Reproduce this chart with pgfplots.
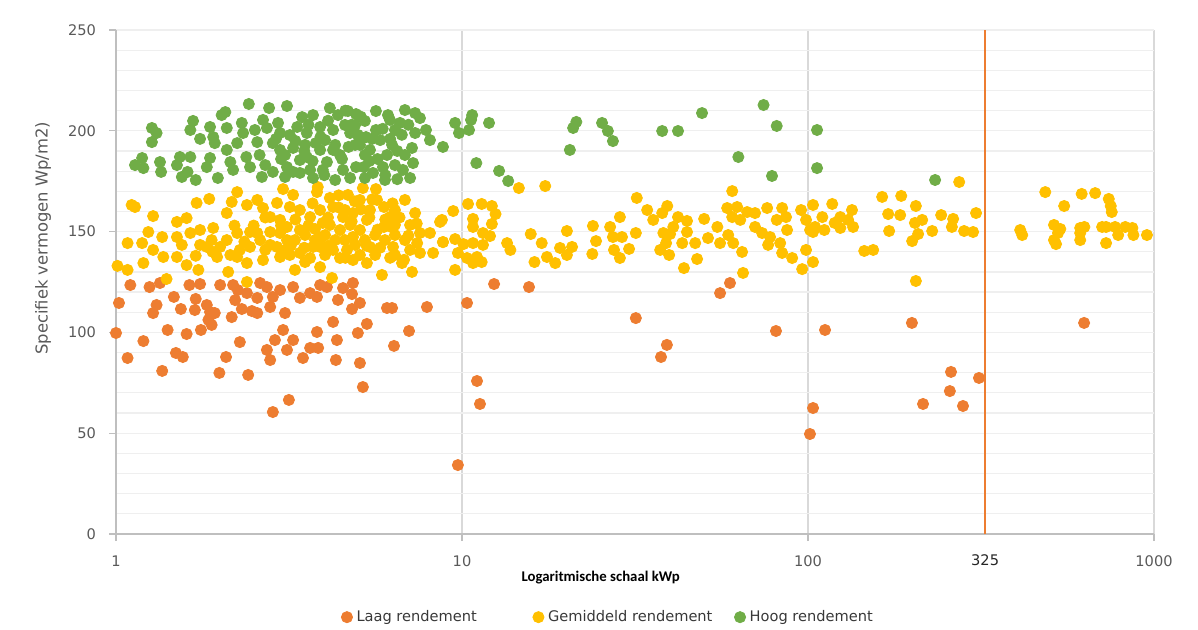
\documentclass[border=0pt]{standalone}
\usepackage{fontspec}
\setmainfont{DejaVu Sans}
\newfontfamily\carlito{Carlito}
\usepackage{pgfplots}
\pgfplotsset{compat=1.18}
\definecolor{cOrange}{HTML}{ED7D31}
\definecolor{cYellow}{HTML}{FFC000}
\definecolor{cGreen}{HTML}{70AD47}
\definecolor{tickgray}{HTML}{595959}
\definecolor{axgray}{HTML}{BFBFBF}
\definecolor{majgrid}{HTML}{D9D9D9}
\definecolor{mingrid}{HTML}{EFEFEF}
\begin{document}
\begin{tikzpicture}
\useasboundingbox (0,0) rectangle (599pt,314.5pt);
\begin{axis}[
  at={(58pt,47.5pt)}, anchor=south west,
  scale only axis, width=519pt, height=252pt,
  xmode=log, log basis x=10,
  xmin=1, xmax=1000, ymin=0, ymax=250,
  xtick={1,10,100,1000}, xticklabels={1,10,100,1000},
  extra x ticks={325}, extra x tick labels={325},
  extra x tick style={grid=none, major tick length=0pt, xticklabel style={text=black!85, yshift=-3pt}},
  ytick={0,50,100,150,200,250},
  minor y tick num=4,
  xmajorgrids, ymajorgrids, xminorgrids, yminorgrids,
  major x grid style={draw=majgrid, line width=0.6pt},
  major y grid style={draw=mingrid, line width=0.6pt},
  minor x grid style={draw=mingrid, line width=0.6pt},
  minor y grid style={draw=mingrid, line width=0.6pt},
  axis x line*=bottom, axis y line*=left,
  axis line style={draw=axgray, line width=0.6pt, -},
  tick style={draw=axgray, line width=0.6pt},
  tick align=outside,
  major tick length=3.5pt, minor tick length=0pt,
  /pgf/number format/assume math mode=true,
  yticklabel style={font=\fontsize{7.3}{8}\selectfont, text=tickgray, xshift=-3pt},
  xticklabel style={font=\fontsize{7.3}{8}\selectfont, text=tickgray, yshift=-4pt},
  xlabel={Logaritmische schaal kWp},
  xlabel style={at={(axis description cs:0.467,-0.0873)}, anchor=center, font=\carlito\bfseries\fontsize{7.4}{9}\selectfont, text=black},
  ylabel={Specifiek vermogen Wp/m2)},
  ylabel style={at={(axis description cs:-0.0703,0.587)}, anchor=center, rotate=0, font=\fontsize{8.2}{9}\selectfont, text=tickgray},
  legend style={at={(axis description cs:0.475,-0.165)}, anchor=center, draw=none, fill=none,
    font=\fontsize{7.3}{8}\selectfont, text=black!78,
    /tikz/column 2/.style={column sep=26pt},
    /tikz/column 4/.style={column sep=9pt}},
  legend columns=3,
  legend image code/.code={\draw[#1] plot coordinates {(0pt,0pt)};},
  clip=false,
]
\addplot[only marks, mark=*, color=cOrange, mark size=2.8pt, mark options={draw=none}] table {
x y
1.10 123.5
1.25 122.5
1.34 124.5
1.02 114.6
1.00 99.7
1.08 87.3
1.20 95.7
1.28 109.6
1.31 113.6
1.47 117.6
1.36 80.9
1.41 101.2
1.54 111.6
1.49 89.8
1.56 87.8
1.60 99.2
1.63 123.5
1.75 124.0
1.70 116.6
1.69 111.1
1.83 113.6
1.87 110.1
1.93 109.6
1.85 106.2
1.89 103.7
1.76 101.2
2.00 123.5
2.18 123.5
2.25 121.0
2.39 119.5
2.21 116.0
2.16 107.6
2.31 111.6
2.47 110.6
2.56 109.6
2.56 117.1
2.61 124.5
2.73 122.5
2.79 112.6
2.84 117.6
2.98 121.0
3.08 109.6
3.25 122.5
3.40 117.1
3.64 119.5
3.81 117.6
3.89 123.5
4.07 122.5
2.28 95.2
2.08 87.8
1.99 79.9
2.41 78.9
2.73 91.3
2.79 86.3
2.88 96.2
3.04 101.2
3.12 91.3
3.25 96.2
3.47 87.3
3.64 92.3
3.84 92.3
3.81 100.2
3.16 66.5
2.84 60.5
4.24 105.2
4.38 116.1
4.53 122.0
4.84 124.5
4.81 119.0
5.07 114.6
4.81 111.6
5.31 104.2
5.00 99.7
4.35 96.2
4.32 86.3
5.07 84.8
5.17 72.9
6.07 112.1
6.28 112.1
7.03 100.7
6.36 93.3
7.92 112.6
12.38 124.0
15.62 122.5
10.34 114.6
11.05 75.9
11.27 64.5
9.73 34.2
59.5 124.5
55.7 119.5
31.8 107.1
39.1 93.8
37.6 87.8
80.8 100.7
112 101.2
103.4 62.5
101.3 49.6
199.7 104.7
215 64.5
259 80.4
257 70.9
280.5 63.5
312 77.4
628 104.7
};
\addlegendentry{Laag rendement}
\addplot[only marks, mark=*, color=cYellow, mark size=2.8pt, mark options={draw=none}] table {
x y
1.135 162.2
1.11 163.2
1.28 157.7
1.01 133.0
1.08 131.0
1.08 144.3
1.20 134.4
1.24 149.8
1.19 144.3
1.36 147.3
1.40 126.5
1.37 137.4
1.50 154.8
1.60 156.7
1.71 164.2
1.86 166.2
1.55 143.4
1.64 149.3
1.60 133.4
1.75 150.8
1.73 131.0
1.83 142.4
1.91 151.8
1.96 137.4
2.09 159.2
2.16 164.7
2.24 169.6
2.11 130.0
2.24 137.4
2.24 149.3
2.39 163.2
2.56 165.7
2.66 161.7
2.39 134.4
2.39 125.0
2.56 149.3
2.66 135.9
2.79 157.2
2.92 164.2
3.04 171.1
3.25 168.2
3.18 162.2
2.98 155.8
3.29 131.0
3.52 134.9
3.89 132.4
4.21 127.0
3.83 172.1
3.81 169.6
4.15 166.7
4.68 168.2
5.17 171.6
5.64 171.1
5.07 165.7
5.68 165.7
6.84 165.7
7.32 159.2
8.64 154.8
8.81 144.8
8.08 149.3
7.56 149.3
8.25 139.4
7.17 130.0
6.71 134.4
5.87 128.5
5.31 134.4
6.32 142.4
5.95 152.3
5.42 142.4
4.84 147.3
4.44 150.8
4.24 140.9
3.71 142.4
3.40 150.8
3.12 145.8
2.92 142.4
3.64 157.2
3.96 154.3
4.53 157.2
4.84 159.2
5.31 155.8
6.19 157.2
3.40 160.7
4.24 162.2
5.95 162.2
3.12 152.3
2.44 142.4
2.09 145.8
2.00 142.4
1.50 137.4
1.28 140.9
1.50 147.3
3.40 139.4
3.89 142.4
4.65 140.9
4.84 135.9
2.98 137.4
7.42 144.3
7.56 139.4
2.61 145.8
2.79 143.4
3.08 140.9
3.29 145.8
3.52 148.3
3.76 145.8
4.02 148.3
4.30 145.8
4.59 145.8
4.91 143.4
5.24 145.8
5.61 148.3
5.99 145.8
6.40 148.3
6.84 145.8
7.08 140.9
6.40 138.4
5.61 138.4
5.07 138.4
4.44 136.9
4.02 138.4
3.64 136.9
3.18 138.4
2.70 140.9
2.28 140.9
2.14 138.4
1.89 145.8
1.75 143.4
4.15 153.3
4.75 153.3
5.07 150.8
6.40 153.3
7.08 153.3
2.79 149.8
2.44 149.8
3.76 151.3
4.59 160.7
5.42 160.7
6.40 160.7
3.89 160.7
2.98 149.3
3.00 153.0
3.30 156.0
3.60 153.0
3.90 147.0
4.10 157.0
4.40 162.0
4.80 155.0
5.10 161.0
5.40 157.0
5.70 151.0
6.00 156.0
6.30 152.0
6.60 157.0
7.00 148.0
7.40 154.0
3.20 143.0
3.50 142.0
4.10 143.0
4.60 137.0
5.30 143.0
5.80 142.0
6.20 137.0
6.80 136.0
2.50 153.0
2.70 157.0
2.20 153.0
1.90 140.0
1.70 138.0
2.35 145.0
4.90 165.0
5.50 166.0
6.30 164.0
3.70 164.0
4.40 168.0
8.75 155.8
9.43 160.2
10.41 163.7
11.4 163.7
12.2 162.7
12.5 158.7
10.76 156.3
10.76 152.3
12.2 153.8
11.5 149.3
12.05 147.8
8.81 144.8
9.55 146.3
10.1 143.8
10.76 144.3
11.5 143.4
9.73 139.4
10.34 136.9
11.05 137.4
11.4 134.9
9.55 131.0
10.76 134.4
14.6 171.6
17.4 172.6
13.5 144.3
13.8 140.9
15.8 148.8
17.0 144.3
16.2 134.9
17.6 137.4
18.6 134.4
19.2 141.9
20.1 150.3
20.8 142.4
20.1 138.4
23.9 152.8
24.4 145.3
23.8 138.9
26.8 152.3
27.3 147.3
29.0 147.3
27.5 140.9
28.6 136.9
30.4 141.4
31.8 149.3
28.6 157.2
32.0 166.7
34.3 160.7
35.7 155.8
37.9 159.2
39.2 162.7
38.2 149.3
39.95 148.8
40.8 152.3
38.9 144.3
37.4 140.9
39.7 138.4
42.1 157.2
44.7 155.3
44.7 149.8
43.3 144.3
47.2 144.3
43.8 131.9
47.8 136.4
50.1 156.3
51.4 146.8
54.7 152.3
55.7 144.3
58.8 148.3
58.4 161.7
60.4 170.1
62.4 162.2
60.4 157.2
60.8 144.3
64.5 139.9
64.9 129.5
63.7 155.8
66.7 159.7
70.3 159.2
70.3 152.3
73.7 149.3
76.2 161.7
77.7 147.3
76.7 143.4
83.1 144.3
84.2 161.7
81.2 155.8
86.4 157.2
87.0 150.8
84.2 139.4
90.0 136.9
95.5 160.7
98.7 155.8
101.4 150.8
98.7 140.9
96.2 131.4
103.4 134.9
103.4 163.2
104.8 152.3
103.4 149.8
110 157.2
117.5 163.7
111.5 150.8
119.4 154.3
124 151.8
124 157.2
134 160.7
135 152.3
130.6 155.8
163.8 167.2
186 167.7
170.5 158.7
184.7 158.2
171.6 150.3
145.4 140.4
154.3 140.9
205 162.7
203.7 154.3
213.8 155.8
208.1 148.8
200 145.3
228.5 150.3
205 125.5
242.6 158.2
262.7 156.3
260.5 152.3
282.6 150.3
300 149.8
273.5 174.6
306 159.2
410.5 150.8
416 148.3
485 169.6
550 162.7
618 168.7
676 169.1
740 166.2
750 162.7
755 159.7
514 153.3
536 151.3
528 149.3
514 145.8
521 143.8
612 151.8
629 152.3
612 149.3
612 145.8
708 152.3
727 152.3
772 152.3
826 152.3
866 151.8
788 148.3
872 148.3
954 148.3
727 144.3
};
\addlegendentry{Gemiddeld rendement}
\addplot[only marks, mark=*, color=cGreen, mark size=2.8pt, mark options={draw=none}] table {
x y
1.27 201.4
1.31 198.9
1.27 194.4
1.135 183.0
1.19 186.5
1.20 181.5
1.34 184.5
1.35 179.6
1.53 187.0
1.50 183.0
1.55 177.1
1.64 187.0
1.61 179.6
1.70 175.6
1.64 200.4
1.67 204.9
2.02 207.8
2.07 209.3
2.42 213.3
2.77 211.3
3.12 212.3
1.91 196.9
1.93 193.9
1.87 186.5
1.83 182.0
1.97 176.6
2.09 190.5
2.14 184.5
2.24 193.9
2.31 203.9
2.33 198.9
2.18 180.6
2.38 187.0
2.56 194.4
2.52 200.4
2.66 205.4
2.73 201.4
2.84 193.9
2.94 203.9
2.98 198.9
2.70 183.0
2.64 177.1
2.84 179.6
3.12 182.0
3.08 188.0
3.25 191.5
3.34 201.9
3.45 206.8
3.71 207.8
3.56 198.9
3.78 193.9
3.56 187.0
3.40 179.1
3.71 176.6
4.07 184.5
4.15 211.3
4.38 207.8
4.68 209.8
4.94 208.3
5.24 204.9
5.64 209.8
6.11 207.8
6.62 203.9
7.32 208.8
7.87 200.4
7.32 198.9
7.17 191.5
7.22 184.0
6.75 180.6
6.28 193.0
5.91 182.0
5.53 179.1
5.24 188.0
4.94 182.0
4.53 180.6
4.24 190.5
4.24 200.4
4.75 198.9
5.28 196.9
5.64 200.4
5.07 193.0
3.89 201.9
3.25 179.6
4.44 188.0
6.07 188.0
2.09 201.4
3.08 177.1
3.96 180.6
2.44 182.0
1.75 196.0
1.87 201.9
3.52 193.0
4.02 195.4
4.59 202.9
4.91 193.0
5.42 190.5
5.80 195.4
6.40 200.4
6.84 188.0
6.40 183.0
4.30 175.6
4.75 176.6
5.24 176.6
3.89 190.5
3.40 185.5
3.64 180.6
2.98 190.5
3.18 197.9
4.91 202.9
6.19 205.4
6.84 210.3
7.56 206.3
8.08 195.4
7.08 176.6
5.99 175.6
3.00 186.0
3.30 195.0
3.60 203.0
3.90 197.0
4.10 205.0
4.30 193.0
4.50 186.0
4.70 192.0
5.00 198.0
5.20 182.0
5.50 196.0
5.70 186.0
5.90 201.0
6.20 196.0
6.50 190.0
6.70 198.0
7.00 203.0
4.60 210.0
5.10 207.0
3.50 190.0
4.00 178.0
3.70 185.0
2.90 196.0
2.60 188.0
6.00 178.0
6.50 176.0
5.40 185.0
4.80 203.0
8.81 192.0
9.55 203.9
9.80 198.9
10.48 200.4
10.7 207.8
10.62 205.4
11.97 203.9
11.0 184.0
12.8 180.1
13.6 175.1
20.5 190.5
20.95 201.4
21.4 204.4
25.4 203.9
26.4 199.9
27.3 194.9
37.9 199.9
42.1 199.9
49.4 208.8
62.9 187.0
74.4 212.8
81.2 202.4
78.7 177.6
106.2 200.4
106.2 181.5
233 175.6
};
\addlegendentry{Hoog rendement}
\addplot[color=cOrange, line width=1pt, forget plot] coordinates {(325,0) (325,250)};
\end{axis}
\end{tikzpicture}
\end{document}
